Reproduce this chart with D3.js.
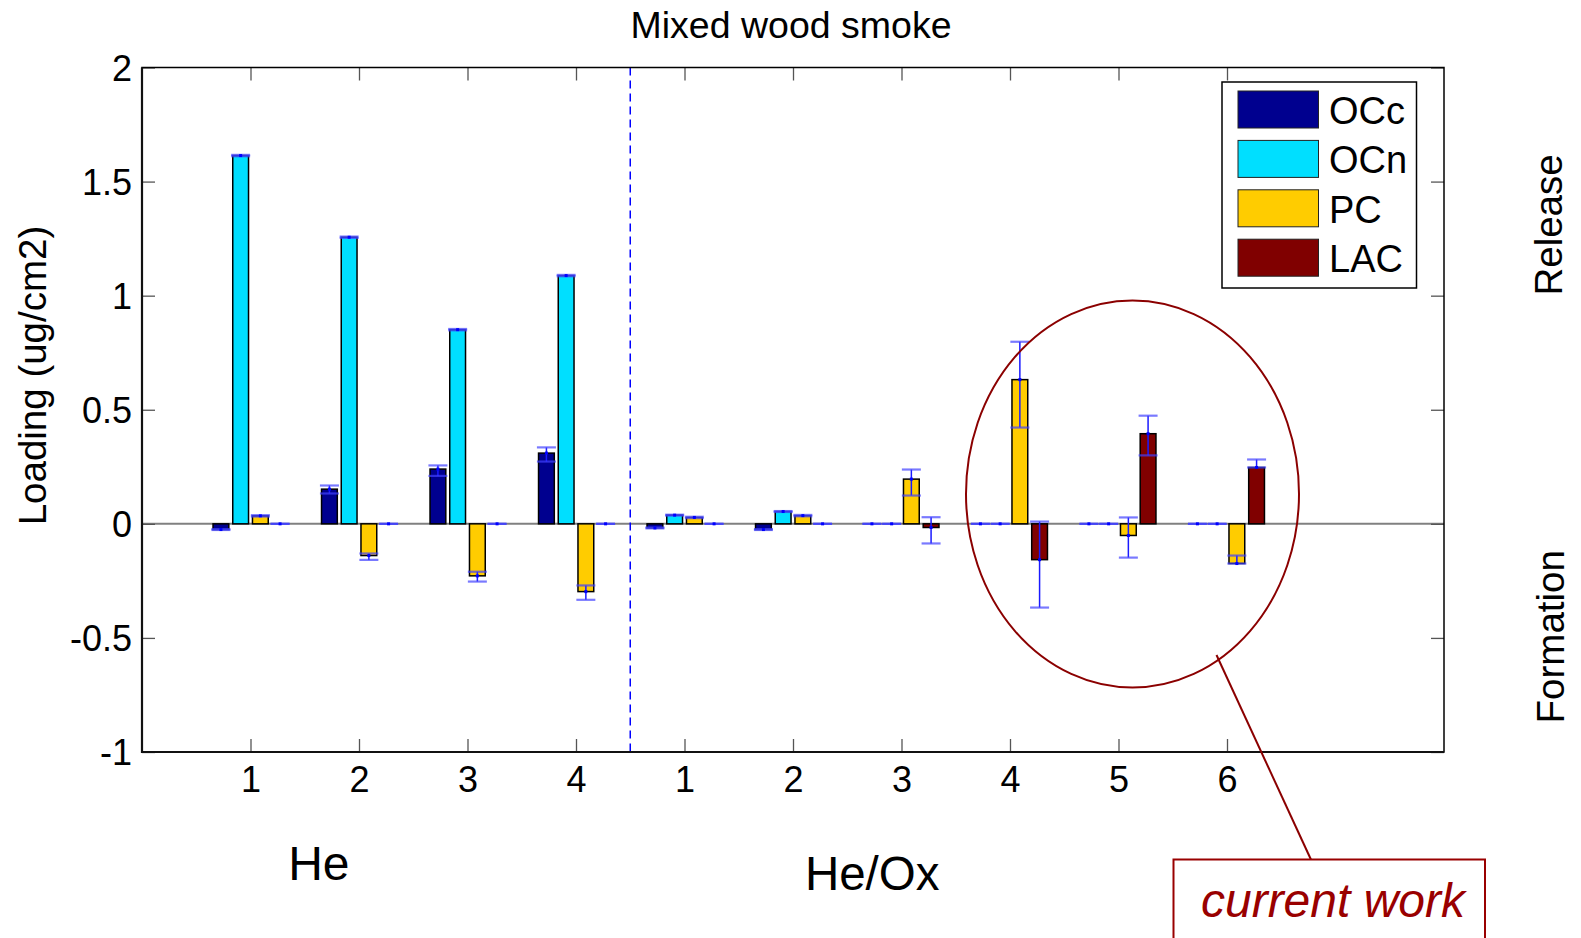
<!DOCTYPE html>
<html>
<head>
<meta charset="utf-8">
<script src="https://cdn.jsdelivr.net/npm/d3@7/dist/d3.min.js"></script>
<style>
  html, body { margin: 0; padding: 0; background: #fff; }
  svg { display: block; font-family: "Liberation Sans", Arial, Helvetica, sans-serif; }
</style>
</head>
<body>
<svg id="chart" width="1581" height="938"></svg>
<script>
// ---------------- data ----------------
const title = "Mixed wood smoke";
const positions = [1, 2, 3, 4, 5, 6, 7, 8, 9, 10];
const tickLabels = ["1", "2", "3", "4", "1", "2", "3", "4", "5", "6"];
const seriesNames = ["OCc", "OCn", "PC", "LAC"];
const seriesColors = ["#00008F", "#00DFFF", "#FFCC00", "#800000"];

const valuesOCc = [-0.025, 0.152, 0.240, 0.310, -0.018, -0.025, 0, 0, 0, 0];
const valuesOCn = [1.614, 1.256, 0.851, 1.088, 0.038, 0.054, 0, 0, 0, 0];
const valuesPC  = [0.035, -0.139, -0.228, -0.297, 0.028, 0.036, 0.196, 0.632, -0.051, -0.174];
const valuesLAC = [0, 0, 0, 0, 0, 0, -0.016, -0.157, 0.395, 0.247];

const errMinusOCc = [0.002, 0.019, 0.030, 0.037, 0.002, 0.002, 0, 0, 0, 0];
const errPlusOCc  = [0.002, 0.016, 0.016, 0.025, 0.002, 0.002, 0, 0, 0, 0];
const errMinusOCn = [0.003, 0.003, 0.003, 0.003, 0.002, 0.002, 0, 0, 0, 0];
const errPlusOCn  = [0.003, 0.003, 0.003, 0.003, 0.002, 0.002, 0, 0, 0, 0];
const errMinusPC  = [0.003, 0.019, 0.025, 0.036, 0.003, 0.003, 0.072, 0.210, 0.097, 0.000];
const errPlusPC   = [0.003, 0.009, 0.018, 0.027, 0.003, 0.003, 0.042, 0.166, 0.079, 0.035];
const errMinusLAC = [0, 0, 0, 0, 0, 0, 0.070, 0.210, 0.095, 0.000];
const errPlusLAC  = [0, 0, 0, 0, 0, 0, 0.045, 0.167, 0.079, 0.035];

const yTicks = [-1, -0.5, 0, 0.5, 1, 1.5, 2];
const yTickLabels = ["-1", "-0.5", "0", "0.5", "1", "1.5", "2"];
const groupLabels = ["He", "He/Ox"];
const groupLabelPos = [1.63, 6.73];
const sideLabels = ["Release", "Formation"];
const annotationText = "current work";

const seriesValues = [valuesOCc, valuesOCn, valuesPC, valuesLAC];
const seriesErrMinus = [errMinusOCc, errMinusOCn, errMinusPC, errMinusLAC];
const seriesErrPlus = [errPlusOCc, errPlusOCn, errPlusPC, errPlusLAC];

// ---------------- layout ----------------
const svg = d3.select("#chart");
const L = 142, R = 1444, T = 67.5, B = 752;

const x = d3.scaleLinear().domain([0, 12]).range([L, R]);
const y = d3.scaleLinear().domain([-1, 2]).range([B, T]);

const slot = 0.727 / 4;       // grouped-bar slot width (data units)
const barW = slot * 0.8;      // bar width (data units)
const capHalf = 9.5;          // px

// title
svg.append("text")
  .attr("x", 791).attr("y", 38)
  .attr("text-anchor", "middle")
  .attr("font-size", 37.5)
  .text(title);

// axes frame background
svg.append("rect")
  .attr("x", L).attr("y", T).attr("width", R - L).attr("height", B - T)
  .attr("fill", "#fff");

// zero baseline
svg.append("line")
  .attr("x1", L).attr("x2", R)
  .attr("y1", y(0)).attr("y2", y(0))
  .attr("stroke", "#808080").attr("stroke-width", 2);

// dashed separator
svg.append("line")
  .attr("x1", x(4.5)).attr("x2", x(4.5))
  .attr("y1", T).attr("y2", B)
  .attr("stroke", "#0000FF").attr("stroke-width", 1.5)
  .attr("stroke-dasharray", "8,5");

// bars
seriesValues.forEach((vals, s) => {
  const off = (s - 1.5) * slot;
  svg.append("g").selectAll("rect")
    .data(vals.map((v, i) => ({ v, p: positions[i] })))
    .join("rect")
    .attr("x", d => x(d.p + off - barW / 2))
    .attr("width", d => x(d.p + off + barW / 2) - x(d.p + off - barW / 2))
    .attr("y", d => y(Math.max(0, d.v)))
    .attr("height", d => Math.abs(y(d.v) - y(0)))
    .attr("fill", seriesColors[s])
    .attr("stroke", d => d.v === 0 ? "none" : "#000")
    .attr("stroke-width", 1.5);
});

// error bars
seriesValues.forEach((vals, s) => {
  const off = (s - 1.5) * slot;
  const g = svg.append("g");
  vals.forEach((v, i) => {
    const cx = x(positions[i] + off);
    const lo = v - seriesErrMinus[s][i];
    const hi = v + seriesErrPlus[s][i];
    g.append("line")
      .attr("x1", cx).attr("x2", cx)
      .attr("y1", y(lo)).attr("y2", y(hi))
      .attr("stroke", "#1a1aff").attr("stroke-width", 1.5);
    [lo, hi].forEach(e => {
      g.append("line")
        .attr("x1", cx - capHalf).attr("x2", cx + capHalf)
        .attr("y1", y(e)).attr("y2", y(e))
        .attr("stroke", "#4040ff").attr("stroke-opacity", 0.7)
        .attr("stroke-width", 2.2);
    });
    g.append("rect")
      .attr("x", cx - 1.5).attr("y", y(v) - 1.5)
      .attr("width", 3).attr("height", 3)
      .attr("fill", "#0000ff");
  });
});

// axes
const tickLen = 13;

const gLeft = svg.append("g").attr("transform", `translate(${L},0)`)
  .call(d3.axisLeft(y).tickValues(yTicks).tickSize(-tickLen).tickPadding(10)
    .tickFormat((d, i) => yTickLabels[i]));
const gRight = svg.append("g").attr("transform", `translate(${R},0)`)
  .call(d3.axisRight(y).tickValues(yTicks).tickSize(-tickLen).tickFormat(""));
const gBottom = svg.append("g").attr("transform", `translate(0,${B})`)
  .call(d3.axisBottom(x).tickValues(positions).tickSize(-tickLen).tickPadding(14)
    .tickFormat((d, i) => tickLabels[i]));
const gTop = svg.append("g").attr("transform", `translate(0,${T})`)
  .call(d3.axisTop(x).tickValues(positions).tickSize(-tickLen).tickFormat(""));

[gLeft, gRight, gBottom, gTop].forEach(g => {
  g.select(".domain").remove();
  g.selectAll(".tick line").attr("stroke", "#555").attr("stroke-width", 1.3);
  g.selectAll(".tick text")
    .attr("font-size", 36)
    .attr("font-family", "\"Liberation Sans\", Arial, sans-serif")
    .attr("fill", "#000");
});
gBottom.selectAll(".tick text").attr("dy", "0.71em");
gLeft.selectAll(".tick text").attr("dy", "0.35em");

// frame
svg.append("rect")
  .attr("x", L).attr("y", T).attr("width", R - L).attr("height", B - T)
  .attr("fill", "none").attr("stroke", "#000").attr("stroke-width", 1.5);
svg.append("path")
  .attr("d", `M${L},${T}V${B}H${R}`)
  .attr("fill", "none").attr("stroke", "#111").attr("stroke-width", 2.2);

// y axis label
svg.append("text")
  .attr("transform", `translate(46,${y(0.65)}) rotate(-90)`)
  .attr("text-anchor", "middle")
  .attr("font-size", 38.5)
  .text("Loading (ug/cm2)");

// group labels
svg.append("text")
  .attr("x", x(groupLabelPos[0])).attr("y", 880)
  .attr("text-anchor", "middle").attr("font-size", 48)
  .text(groupLabels[0]);
svg.append("text")
  .attr("x", x(groupLabelPos[1])).attr("y", 890)
  .attr("text-anchor", "middle").attr("font-size", 47.5)
  .text(groupLabels[1]);

// side labels
svg.append("text")
  .attr("transform", `translate(1562,${y(1.31)}) rotate(-90)`)
  .attr("text-anchor", "middle").attr("font-size", 38.5)
  .text(sideLabels[0]);
svg.append("text")
  .attr("transform", `translate(1564,${y(-0.495)}) rotate(-90)`)
  .attr("text-anchor", "middle").attr("font-size", 38.5)
  .text(sideLabels[1]);

// legend
const lg = svg.append("g");
lg.append("rect")
  .attr("x", 1222).attr("y", 82).attr("width", 194.5).attr("height", 206)
  .attr("fill", "#fff").attr("stroke", "#000").attr("stroke-width", 1.5);
seriesNames.forEach((n, i) => {
  const top = 91 + i * 49.4;
  lg.append("rect")
    .attr("x", 1238).attr("y", top).attr("width", 80.5).attr("height", 37)
    .attr("fill", seriesColors[i]).attr("stroke", "#222").attr("stroke-width", 1);
  lg.append("text")
    .attr("x", 1329).attr("y", top + 33)
    .attr("font-size", 38)
    .text(n);
});

// annotation: ellipse, connector, box
const dark = "#8B0000";
svg.append("ellipse")
  .attr("cx", 1132.5).attr("cy", 494).attr("rx", 166.5).attr("ry", 193.5)
  .attr("fill", "none").attr("stroke", dark).attr("stroke-width", 2);
svg.append("line")
  .attr("x1", 1216.5).attr("y1", 655).attr("x2", 1313).attr("y2", 864)
  .attr("stroke", dark).attr("stroke-width", 2);
svg.append("rect")
  .attr("x", 1173.5).attr("y", 859.5).attr("width", 311.5).attr("height", 120)
  .attr("fill", "#fff").attr("stroke", "#990000").attr("stroke-width", 2);
svg.append("text")
  .attr("x", 1333).attr("y", 916.5)
  .attr("text-anchor", "middle")
  .attr("font-size", 48).attr("font-style", "italic")
  .attr("fill", "#990000")
  .text(annotationText);
</script>
</body>
</html>
